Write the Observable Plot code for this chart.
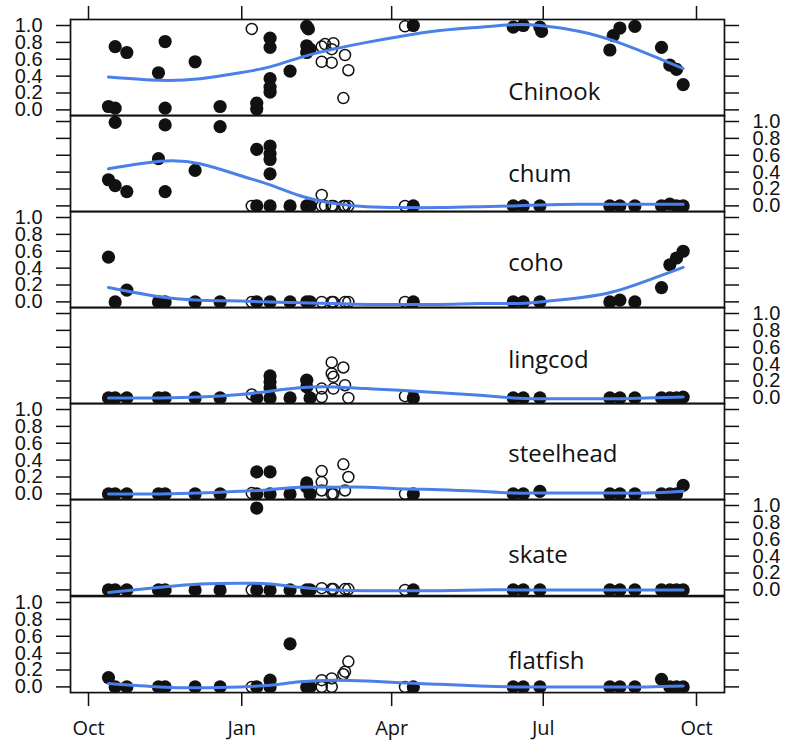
<!DOCTYPE html>
<html><head><meta charset="utf-8">
<script src="https://cdn.jsdelivr.net/npm/d3@7"></script>
<script src="https://cdn.jsdelivr.net/npm/@observablehq/plot@0.6"></script>
<style>
body{margin:0;background:#fff;}
#chart{width:785px;}
#chart svg{display:block;overflow:visible;}
</style></head><body><div id="chart"></div>
<script>
const species = ["Chinook","chum","coho","lingcod","steelhead","skate","flatfish"];

// [date, value, "f" filled | "o" open]
const chinook = [["2010-10-13",0.04,"f"],["2010-10-17",0.02,"f"],["2010-10-17",0.75,"f"],["2010-10-24",0.68,"f"],["2010-11-12",0.44,"f"],["2010-11-16",0.81,"f"],["2010-11-16",0.02,"f"],["2010-12-04",0.57,"f"],["2010-12-19",0.04,"f"],["2011-01-07",0.96,"o"],["2011-01-10",0.08,"f"],["2011-01-10",0.01,"f"],["2011-01-18",0.85,"f"],["2011-01-18",0.74,"f"],["2011-01-18",0.37,"f"],["2011-01-18",0.27,"f"],["2011-01-18",0.21,"f"],["2011-01-30",0.46,"f"],["2011-02-09",0.99,"f"],["2011-02-10",0.96,"f"],["2011-02-09",0.76,"f"],["2011-02-11",0.72,"f"],["2011-02-09",0.68,"f"],["2011-02-18",0.75,"o"],["2011-02-18",0.57,"o"],["2011-02-20",0.78,"o"],["2011-02-24",0.72,"o"],["2011-02-24",0.56,"o"],["2011-02-25",0.79,"o"],["2011-03-03",0.14,"o"],["2011-03-04",0.65,"o"],["2011-03-06",0.47,"o"],["2011-04-09",0.99,"o"],["2011-04-14",1.0,"f"],["2011-06-13",0.98,"f"],["2011-06-19",1.0,"f"],["2011-06-29",0.98,"f"],["2011-06-30",0.93,"f"],["2011-08-10",0.71,"f"],["2011-08-12",0.88,"f"],["2011-08-16",0.97,"f"],["2011-08-25",0.99,"f"],["2011-09-10",0.74,"f"],["2011-09-15",0.53,"f"],["2011-09-19",0.48,"f"],["2011-09-23",0.30,"f"]];
const chum = [["2010-10-13",0.31,"f"],["2010-10-17",0.24,"f"],["2010-10-17",0.99,"f"],["2010-10-24",0.17,"f"],["2010-11-12",0.56,"f"],["2010-11-16",0.17,"f"],["2010-11-16",0.96,"f"],["2010-12-04",0.42,"f"],["2010-12-19",0.94,"f"],["2011-01-07",0,"o"],["2011-01-10",0.67,"f"],["2011-01-10",0,"f"],["2011-01-18",0.71,"f"],["2011-01-18",0.62,"f"],["2011-01-18",0.55,"f"],["2011-01-18",0.38,"f"],["2011-01-18",0,"f"],["2011-01-30",0,"f"],["2011-02-09",0,"f"],["2011-02-11",0,"f"],["2011-02-18",0.13,"o"],["2011-02-18",0,"o"],["2011-02-20",0,"o"],["2011-02-24",0,"o"],["2011-02-25",0,"o"],["2011-03-03",0,"o"],["2011-03-04",0,"o"],["2011-03-06",0,"o"],["2011-04-09",0,"o"],["2011-04-14",0,"f"],["2011-06-13",0,"f"],["2011-06-19",0,"f"],["2011-06-29",0,"f"],["2011-08-10",0,"f"],["2011-08-16",0,"f"],["2011-08-25",0,"f"],["2011-09-10",0,"f"],["2011-09-15",0.02,"f"],["2011-09-19",0,"f"],["2011-09-23",0,"f"]];
const coho = [["2010-10-13",0.53,"f"],["2010-10-17",0,"f"],["2010-10-24",0.14,"f"],["2010-11-12",0,"f"],["2010-11-16",0,"f"],["2010-12-04",0,"f"],["2010-12-19",0,"f"],["2011-01-07",0,"o"],["2011-01-10",0,"f"],["2011-01-18",0,"f"],["2011-01-30",0,"f"],["2011-02-09",0,"f"],["2011-02-11",0,"f"],["2011-02-18",0,"o"],["2011-02-24",0,"o"],["2011-02-25",0,"o"],["2011-03-04",0,"o"],["2011-03-06",0,"o"],["2011-04-09",0,"o"],["2011-04-14",0,"f"],["2011-06-13",0,"f"],["2011-06-19",0,"f"],["2011-06-29",0,"f"],["2011-08-10",0,"f"],["2011-08-16",0.02,"f"],["2011-08-25",0,"f"],["2011-09-10",0.17,"f"],["2011-09-15",0.44,"f"],["2011-09-19",0.52,"f"],["2011-09-23",0.60,"f"]];
const lingcod = [["2010-10-13",0,"f"],["2010-10-17",0,"f"],["2010-10-24",0,"f"],["2010-11-12",0,"f"],["2010-11-16",0,"f"],["2010-12-04",0,"f"],["2010-12-19",0,"f"],["2011-01-07",0.04,"o"],["2011-01-10",0,"f"],["2011-01-18",0.26,"f"],["2011-01-18",0.19,"f"],["2011-01-18",0.12,"f"],["2011-01-18",0,"f"],["2011-01-30",0,"f"],["2011-02-09",0.21,"f"],["2011-02-09",0.13,"f"],["2011-02-11",0,"f"],["2011-02-18",0.11,"o"],["2011-02-18",0.01,"o"],["2011-02-24",0.42,"o"],["2011-02-24",0.29,"o"],["2011-02-25",0.25,"o"],["2011-02-25",0.11,"o"],["2011-03-03",0.36,"o"],["2011-03-04",0.15,"o"],["2011-03-06",0,"o"],["2011-04-09",0.02,"o"],["2011-04-14",0,"f"],["2011-06-13",0,"f"],["2011-06-19",0,"f"],["2011-06-29",0,"f"],["2011-08-10",0,"f"],["2011-08-16",0,"f"],["2011-08-25",0,"f"],["2011-09-10",0,"f"],["2011-09-15",0,"f"],["2011-09-19",0,"f"],["2011-09-23",0.01,"f"]];
const steelhead = [["2010-10-13",0,"f"],["2010-10-17",0,"f"],["2010-10-24",0,"f"],["2010-11-12",0,"f"],["2010-11-16",0,"f"],["2010-12-04",0,"f"],["2010-12-19",0,"f"],["2011-01-07",0.01,"o"],["2011-01-10",0.26,"f"],["2011-01-10",0,"f"],["2011-01-18",0.26,"f"],["2011-01-18",0,"f"],["2011-01-30",0,"f"],["2011-02-09",0.13,"f"],["2011-02-09",0.08,"f"],["2011-02-11",0,"f"],["2011-02-18",0.27,"o"],["2011-02-18",0.14,"o"],["2011-02-18",0.04,"o"],["2011-02-24",0,"o"],["2011-02-25",0,"o"],["2011-03-03",0.35,"o"],["2011-03-06",0.20,"o"],["2011-03-04",0.04,"o"],["2011-04-09",0,"o"],["2011-04-14",0,"f"],["2011-06-13",0,"f"],["2011-06-19",0,"f"],["2011-06-29",0.03,"f"],["2011-08-10",0,"f"],["2011-08-16",0,"f"],["2011-08-25",0,"f"],["2011-09-10",0,"f"],["2011-09-15",0,"f"],["2011-09-19",0,"f"],["2011-09-23",0.10,"f"]];
const skate = [["2010-10-13",0,"f"],["2010-10-17",0,"f"],["2010-10-24",0,"f"],["2010-11-12",0,"f"],["2010-11-16",0,"f"],["2010-12-04",0,"f"],["2010-12-19",0,"f"],["2011-01-07",0,"o"],["2011-01-10",0.97,"f"],["2011-01-10",0,"f"],["2011-01-18",0,"f"],["2011-01-30",0,"f"],["2011-02-09",0,"f"],["2011-02-11",0,"f"],["2011-02-18",0.02,"o"],["2011-02-24",0.01,"o"],["2011-02-25",0.01,"o"],["2011-03-04",0.01,"o"],["2011-03-06",0.01,"o"],["2011-04-09",0,"o"],["2011-04-14",0,"f"],["2011-06-13",0,"f"],["2011-06-19",0,"f"],["2011-06-29",0,"f"],["2011-08-10",0,"f"],["2011-08-16",0,"f"],["2011-08-25",0,"f"],["2011-09-10",0,"f"],["2011-09-15",0,"f"],["2011-09-19",0,"f"],["2011-09-23",0,"f"]];
const flatfish = [["2010-10-13",0.11,"f"],["2010-10-17",0,"f"],["2010-10-24",0,"f"],["2010-11-12",0,"f"],["2010-11-16",0,"f"],["2010-12-04",0,"f"],["2010-12-19",0,"f"],["2011-01-07",0,"o"],["2011-01-10",0,"f"],["2011-01-18",0.08,"f"],["2011-01-18",0,"f"],["2011-01-30",0.51,"f"],["2011-02-09",0,"f"],["2011-02-11",0,"f"],["2011-02-18",0.08,"o"],["2011-02-18",0,"o"],["2011-02-24",0.10,"o"],["2011-02-24",0,"o"],["2011-03-03",0.15,"o"],["2011-03-04",0.18,"o"],["2011-03-06",0.30,"o"],["2011-04-09",0,"o"],["2011-04-14",0,"f"],["2011-06-13",0,"f"],["2011-06-19",0,"f"],["2011-06-29",0,"f"],["2011-08-10",0,"f"],["2011-08-16",0,"f"],["2011-08-25",0,"f"],["2011-09-10",0.09,"f"],["2011-09-15",0,"f"],["2011-09-19",0,"f"],["2011-09-23",0,"f"]];

// smooth curves, read at these dates
const smoothDates = ["2010-10-13","2010-11-13","2010-12-07","2010-12-31","2011-01-18","2011-02-05","2011-02-25","2011-03-17","2011-04-06","2011-04-30","2011-05-24","2011-06-13","2011-06-29","2011-07-23","2011-08-12","2011-09-01","2011-09-23"];
const chinookSmooth   = [0.39,0.35,0.37,0.44,0.51,0.62,0.72,0.80,0.87,0.94,0.98,1.01,1.00,0.93,0.82,0.67,0.49];
const chumSmooth      = [0.44,0.53,0.50,0.36,0.25,0.12,0.03,-0.01,-0.02,-0.02,-0.01,0.00,0.01,0.02,0.02,0.02,0.02];
const cohoSmooth      = [0.17,0.06,0.02,0.01,0.00,-0.01,-0.02,-0.03,-0.03,-0.03,-0.02,-0.02,0.00,0.05,0.12,0.25,0.41];
const lingcodSmooth   = [0.00,0.00,0.01,0.04,0.08,0.12,0.13,0.11,0.09,0.06,0.03,0.00,-0.01,-0.01,-0.01,0.00,0.01];
const steelheadSmooth = [0.00,0.00,0.01,0.03,0.05,0.08,0.08,0.08,0.06,0.05,0.03,0.01,0.01,0.01,0.01,0.01,0.03];
const skateSmooth     = [-0.03,0.03,0.07,0.08,0.07,0.03,0.00,-0.01,-0.01,-0.01,0.00,0.00,0.00,0.00,0.00,0.00,0.00];
const flatfishSmooth  = [0.04,0.00,-0.01,0.00,0.02,0.06,0.08,0.07,0.05,0.03,0.01,0.00,0.00,0.00,0.00,0.00,0.01];

const xTicks = ["2010-10-01","2011-01-01","2011-04-01","2011-07-01","2011-10-01"];
const yTicks = [0, 0.2, 0.4, 0.6, 0.8, 1.0];

// panel label placement (date, value of baseline)
const labelDate = "2011-06-10";
const labelY = [0.12, 0.28, 0.37, 0.35, 0.38, 0.32, 0.21];

const points = {Chinook: chinook, chum, coho, lingcod, steelhead, skate, flatfish};
const smooths = {Chinook: chinookSmooth, chum: chumSmooth, coho: cohoSmooth, lingcod: lingcodSmooth, steelhead: steelheadSmooth, skate: skateSmooth, flatfish: flatfishSmooth};

const parse = d3.utcParse("%Y-%m-%d");
const DAY = 864e5;
const d0 = Date.UTC(2010, 9, 1);
const xDomain = [new Date(d0 - 10.8 * DAY), new Date(d0 + 381.8 * DAY)];
const xTickDates = xTicks.map(parse);
const fmt = d3.format(".1f");
const ink = "#111";
const PH = 96.1;

const chart = document.getElementById("chart");
species.forEach((sp, i) => {
  const top = i === 0 ? 19 : 0;
  const bottom = i === species.length - 1 ? 51 : 0;
  const leftLabels = i % 2 === 0;
  const rows = points[sp].map(([d, v, t]) => ({date: parse(d), v, open: t === "o"}));
  const line = smoothDates.map((d, j) => ({date: parse(d), v: smooths[sp][j]}));
  const yAxisOpts = {ticks: yTicks, tickSize: 14, tickPadding: 14, strokeWidth: 1.5, label: null, fontSize: 20, fontFamily: "Liberation Sans, Arial, sans-serif"};
  const marks = [
    Plot.axisY({...yAxisOpts, anchor: "left", tickFormat: leftLabels ? fmt : () => ""}),
    Plot.axisY({...yAxisOpts, anchor: "right", tickFormat: leftLabels ? () => "" : fmt}),
    Plot.dot(rows.filter(r => !r.open), {x: "date", y: "v", r: 6.6, fill: ink, stroke: "none", clip: true}),
    Plot.dot(rows.filter(r => r.open), {x: "date", y: "v", r: 5.5, fill: "none", stroke: ink, strokeWidth: 1.5, clip: true}),
    Plot.line(line, {x: "date", y: "v", stroke: "#4a80e8", strokeWidth: 3, curve: "natural", clip: true}),
    Plot.text([sp], {x: () => parse(labelDate), y: () => labelY[i], text: d => d, textAnchor: "start", lineAnchor: "bottom", fontSize: 24, fontFamily: "Open Sans, sans-serif", fill: ink}),
    Plot.frame({stroke: ink, strokeWidth: 1.7})
  ];
  if (i === 0) marks.push(Plot.axisX({anchor: "top", ticks: xTickDates, tickSize: 14, tickFormat: () => "", strokeWidth: 1.5, label: null}));
  if (i === species.length - 1) marks.push(Plot.axisX({anchor: "bottom", ticks: xTickDates, tickSize: 14, tickPadding: 14, tickFormat: d3.utcFormat("%b"), strokeWidth: 1.5, label: null, fontSize: 20, fontFamily: "Open Sans, sans-serif"}));
  const svg = Plot.plot({
    width: 785,
    height: PH + top + bottom,
    marginTop: top, marginBottom: bottom, marginLeft: 70, marginRight: 61,
    x: {type: "utc", domain: xDomain, axis: null},
    y: {domain: [-0.0676, 1.0712], axis: null},
    style: {background: "transparent", color: ink, fontFamily: "Liberation Sans, Arial, sans-serif", fontSize: "20px", overflow: "visible"},
    marks
  });
  chart.appendChild(svg);
});
</script>
</body></html>
